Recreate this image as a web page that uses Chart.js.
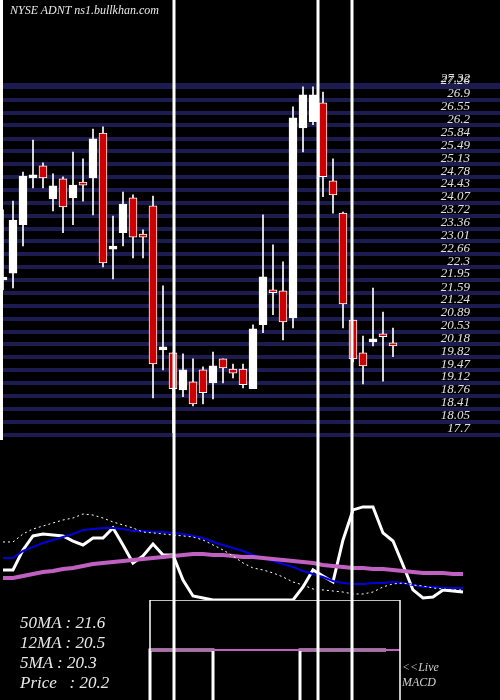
<!DOCTYPE html>
<html>
<head>
<meta charset="utf-8">
<script src="https://cdn.jsdelivr.net/npm/chart.js@4.4.1/dist/chart.umd.min.js"></script>
<style>
  body { margin: 0; background: #000; }
  #wrap { position: relative; width: 500px; height: 700px; background: #000; }
  .t { position: absolute; color: #e8e8e8; font-family: "Liberation Serif", serif; font-style: italic; white-space: pre; }
</style>
</head>
<body>
<div id="wrap">
  <canvas id="c" width="500" height="700"></canvas>
  <div class="t" style="left:10px;top:3px;font-size:12px;">NYSE ADNT ns1.bullkhan.com</div>
  <div class="t" style="left:20px;top:613px;font-size:17px;">50MA : 21.6</div>
  <div class="t" style="left:20px;top:633px;font-size:17px;">12MA : 20.5</div>
  <div class="t" style="left:20px;top:653px;font-size:17px;">5MA : 20.3</div>
  <div class="t" style="left:20px;top:673px;font-size:17px;">Price   : 20.2</div>
  <div class="t" style="left:402px;top:660px;font-size:12px;color:#ccc;">&lt;&lt;Live</div>
  <div class="t" style="left:402px;top:675px;font-size:12px;color:#ccc;">MACD</div>
</div>
<script>
// candles: open, high, low, close
var opens  = [21.95,22.14,23.47,24.76,25.09,24.18,24.73,24.21,24.6,24.76,25.99,22.8,23.25,24.21,23.18,23.99,20.03,19.95,18.93,19.15,19.48,19.12,19.78,19.5,19.5,18.96,20.72,21.65,21.65,20.91,26.13,26.3,26.82,24.68,23.79,20.85,19.95,20.25,20.47,20.19];
var highs  = [23.88,24.12,24.92,25.8,25.17,24.87,24.79,25.47,25.28,26.1,26.16,23.71,24.37,24.29,23.33,24.26,21.79,19.95,19.92,19.78,19.56,19.97,19.78,19.64,19.64,20.72,23.74,22.92,22.45,26.71,27.26,27.26,27.12,25.28,23.82,20.85,20.41,21.73,21.07,20.63];
var lows   = [21.68,21.73,22.89,24.48,24.48,23.85,23.25,23.47,24.12,23.74,22.31,21.98,22.89,22.56,22.56,18.71,19.48,17.75,18.74,18.49,18.54,18.68,19.12,19.26,18.98,18.96,20.5,21.0,20.3,20.63,25.47,26.22,24.24,23.79,20.63,19.7,19.09,20.14,19.17,19.84];
var closes = [21.95,23.6,24.81,24.76,24.76,24.54,23.96,24.56,24.56,25.83,22.42,22.8,24.04,23.13,23.13,19.64,20.03,18.96,19.48,18.54,18.85,19.59,19.53,19.39,19.07,20.61,22.04,21.6,20.8,26.41,27.04,27.04,24.79,24.29,21.29,19.78,19.59,20.25,20.39,20.14];

var priceTicks = [27.32,27.26,26.9,26.55,26.2,25.84,25.49,25.13,24.78,24.43,24.07,23.72,23.36,23.01,22.66,22.3,21.95,21.59,21.24,20.89,20.53,20.18,19.82,19.47,19.12,18.76,18.41,18.05,17.7];

// indicator pane
var ma5  = [21.91,21.91,23.44,24.51,24.66,24.58,24.51,24.12,23.82,24.35,24.35,25.12,23.82,22.44,22.98,23.9,23.05,23.05,21.14,19.92,19.76,19.61,19.61,19.61,19.61,19.61,19.61,19.61,19.61,19.61,20.61,21.91,21.45,20.99,24.2,26.5,26.73,26.73,24.74,24.12,22.29,20.38,19.76,19.84,20.38,20.3,20.22];
var ma12 = [22.82,22.82,23.36,23.67,23.97,24.2,24.43,24.66,24.97,25.04,25.12,25.12,25.04,24.89,24.89,24.81,24.81,24.74,24.66,24.51,24.35,24.05,23.82,23.59,23.36,23.05,22.82,22.59,22.37,22.14,21.83,21.6,21.37,21.06,20.91,20.84,20.84,20.91,20.91,20.99,20.91,20.76,20.61,20.61,20.53,20.53,20.53];
var ma50 = [21.29,21.29,21.45,21.6,21.75,21.83,21.98,22.06,22.21,22.37,22.44,22.52,22.59,22.67,22.75,22.82,22.9,22.98,23.05,23.13,23.13,23.05,23.05,22.98,22.9,22.9,22.82,22.75,22.67,22.59,22.52,22.44,22.29,22.21,22.14,22.06,22.06,21.98,21.98,21.91,21.83,21.75,21.68,21.68,21.68,21.6,21.6];
var ma20 = [24.05,24.05,24.66,25.04,25.27,25.5,25.73,25.88,26.19,26.11,25.88,25.58,25.35,25.12,24.81,24.74,24.66,24.58,24.51,24.43,24.2,23.82,23.44,22.98,22.44,22.06,21.91,21.68,21.37,20.99,20.76,20.45,20.38,20.3,20.22,20.07,20.07,20.22,20.61,20.84,20.91,20.76,20.68,20.53,20.45,20.38,20.38];

// MACD pane
var macdX    = [14.7, 21, 29.7, 36, 38.3];
var macdVals = [-1.1, 0, -1.1, 0, 0];
var signalX  = [14.7, 39.7];
var signalVals = [0, 0];
var boxX = [14.7, 14.7, 39.7, 39.7, 14.7];
var boxY = [-1.2, 1, 1, -1.2, -1.2];

var vLines = [17.1, 31.5, 34.9];

function pts(xs, ys) { return xs.map(function (x, i) { return { x: x, y: ys[i] }; }); }
function seq(arr) { return arr.map(function (v, i) { return { x: i, y: v }; }); }

var bodies = opens.map(function (o, i) { return { x: i, y: [o, closes[i]] }; });
var wicks = highs.map(function (h, i) { return { x: i, y: [lows[i], h] }; });
var bodyColors = opens.map(function (o, i) { return closes[i] < o ? '#cc0000' : '#ffffff'; });

var vlinePlugin = {
  id: 'vlines',
  afterDatasetsDraw: function (chart) {
    var ctx = chart.ctx, xs = chart.scales.x;
    ctx.save();
    ctx.strokeStyle = '#ffffff';
    ctx.lineWidth = 3;
    vLines.forEach(function (v) {
      var px = xs.getPixelForValue(v);
      ctx.beginPath(); ctx.moveTo(px, 0); ctx.lineTo(px, chart.height); ctx.stroke();
    });
    var main = chart.scales.y;
    ctx.beginPath(); ctx.moveTo(1.5, 0); ctx.lineTo(1.5, main.bottom); ctx.stroke();
    ctx.restore();
  }
};

function noWidth(s) { s.width = 0; s.paddingTop = 0; s.paddingBottom = 0; }

new Chart(document.getElementById('c'), {
  data: {
    datasets: [
      { type: 'bar', data: wicks, yAxisID: 'y', backgroundColor: '#ffffff', barThickness: 1, grouped: false, order: 2 },
      { type: 'bar', data: bodies, yAxisID: 'y', backgroundColor: bodyColors, borderColor: '#ffffff', borderWidth: 1,
        barThickness: 8, minBarLength: 3, grouped: false, borderSkipped: false, order: 1 },
      { type: 'line', data: seq(ma20), yAxisID: 'y2', borderColor: '#ffffff', borderWidth: 1, borderDash: [2, 3], pointRadius: 0 },
      { type: 'line', data: seq(ma50), yAxisID: 'y2', borderColor: '#c060c0', borderWidth: 4, pointRadius: 0 },
      { type: 'line', data: seq(ma12), yAxisID: 'y2', borderColor: '#0000dd', borderWidth: 2, pointRadius: 0 },
      { type: 'line', data: seq(ma5), yAxisID: 'y2', borderColor: '#ffffff', borderWidth: 3, pointRadius: 0 },
      { type: 'line', data: pts(boxX, boxY), yAxisID: 'y3', borderColor: '#ffffff', borderWidth: 1.5, pointRadius: 0 },
      { type: 'line', data: pts(signalX, signalVals), yAxisID: 'y3', borderColor: '#c060c0', borderWidth: 2, pointRadius: 0 },
      { type: 'line', data: pts(macdX, macdVals), yAxisID: 'y3', borderColor: '#ffffff', borderWidth: 3, pointRadius: 0, stepped: 'after' }
    ]
  },
  options: {
    responsive: false,
    animation: false,
    layout: { padding: 0 },
    plugins: { legend: { display: false }, tooltip: { enabled: false } },
    scales: {
      x: { type: 'linear', min: -0.3, max: 49.7, offset: false, display: false },
      y: {
        type: 'linear', position: 'right', stack: 'p', stackWeight: 440,
        min: 17.55, max: 29.65, afterFit: noWidth,
        afterBuildTicks: function (s) { s.ticks = priceTicks.map(function (v) { return { value: v }; }); },
        grid: { color: '#1c1c50', lineWidth: 4, drawTicks: false },
        border: { display: false },
        ticks: {
          mirror: true, padding: -30, labelOffset: -6, color: '#e0e0e0', autoSkip: false,
          font: { family: 'Liberation Serif', style: 'italic', size: 13 },
          callback: function (v) { return String(v); }
        }
      },
      y2: {
        type: 'linear', position: 'right', stack: 'p', stackWeight: 160, min: 19.61, max: 31.85, afterFit: noWidth,
        grid: { display: false }, border: { display: false }, ticks: { display: false }
      },
      y3: {
        type: 'linear', position: 'right', stack: 'p', stackWeight: 100, min: -1, max: 1, afterFit: noWidth,
        grid: { display: false }, border: { display: false }, ticks: { display: false }
      }
    }
  },
  plugins: [vlinePlugin]
});
</script>
</body>
</html>
